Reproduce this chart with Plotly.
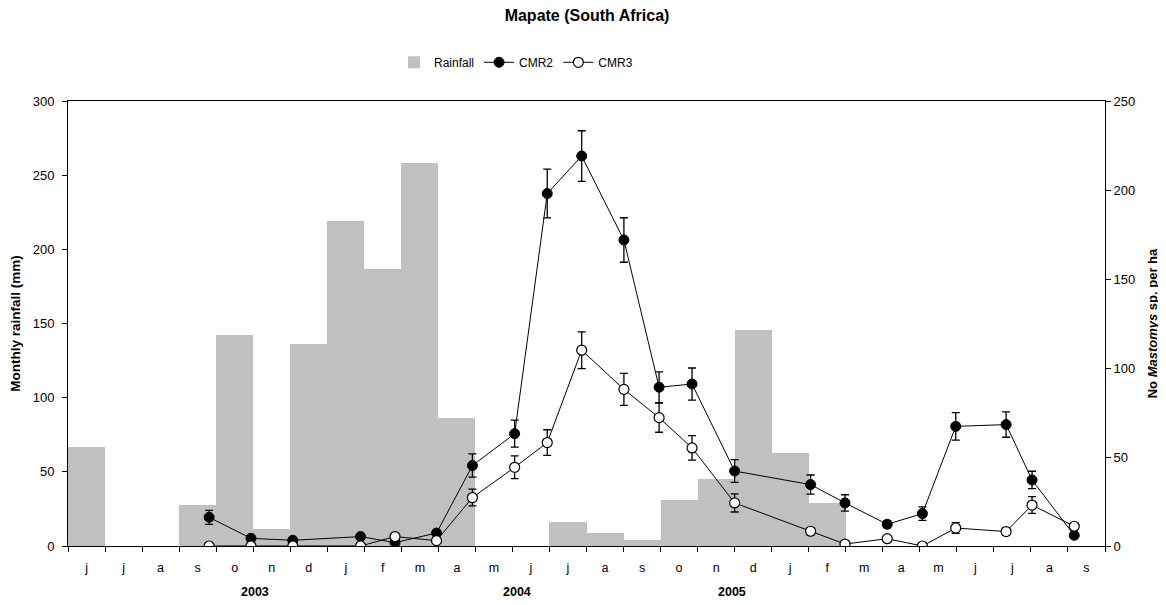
import plotly.graph_objects as go

months = ["j", "j", "a", "s", "o", "n", "d", "j", "f", "m", "a", "m", "j", "j",
          "a", "s", "o", "n", "d", "j", "f", "m", "a", "m", "j", "j", "a", "s"]
rainfall = [66.5, 0, 0, 27.6, 142, 11.3, 136, 218.9, 186.5, 258, 86, 0, 0, 16,
            8.5, 3.8, 30.8, 45, 145.4, 62.5, 28.8, 0, 0, 0, 0, 0, 0, 0]

# sampling positions (in month index units, 0 = June 2003)
sample_pos = [3.31, 4.44, 5.57, 7.40, 8.33, 9.45, 10.42, 11.56, 12.44, 13.37, 14.51,
              15.46, 16.35, 17.50, 19.55, 20.48, 21.62, 22.57, 23.47, 24.83, 25.53, 26.67]
cmr2 = [16.1, 4.3, 3.2, 5.3, 1.9, 7.3, 45.2, 63.1, 198, 219.1, 171.9,
        89.2, 91, 42.1, 34.5, 24.2, 12.2, 18.2, 67.2, 68.2, 37.1, 6.0]
cmr2_err = [3.9, 0, 0, 0, 0, 1.5, 6.5, 7.6, 13.7, 14.2, 12.5,
            8.6, 9.0, 6.4, 5.4, 4.6, 2.0, 3.8, 7.7, 7.1, 4.9, 0]
cmr3 = [0, 0, 0, 0, 5.3, 3.0, 27.2, 44.2, 58.1, 110, 88,
        72.1, 55.1, 24.2, 8.3, 1.1, 4.1, 0, 10.1, 8.1, 23.0, 11.1]
cmr3_err = [0, 0, 0, 0, 0, 0, 4.7, 6.4, 7.2, 10.3, 9.0,
            8.2, 6.9, 5.1, 2.0, 0, 0, 0, 3.0, 2.0, 4.7, 0]

years = ["2003", "2004", "2005"]
year_pos = [4.55, 11.61, 17.42]

FONT = "Arial, Liberation Sans, sans-serif"
idx = list(range(len(months)))

fig = go.Figure()
fig.add_trace(go.Bar(x=idx, y=rainfall, name="Rainfall", width=1,
                     marker=dict(color="#c0c0c0", line=dict(width=0)),
                     xaxis="x", yaxis="y"))
fig.add_trace(go.Scatter(x=sample_pos, y=cmr2, name="CMR2", mode="lines+markers",
                         line=dict(color="black", width=1),
                         marker=dict(symbol="circle", size=10, color="black",
                                     line=dict(color="black", width=1)),
                         error_y=dict(type="data", array=cmr2_err, color="black",
                                      thickness=1.3, width=4),
                         xaxis="x", yaxis="y2"))
fig.add_trace(go.Scatter(x=sample_pos, y=cmr3, name="CMR3", mode="lines+markers",
                         line=dict(color="black", width=1),
                         marker=dict(symbol="circle", size=10, color="white",
                                     line=dict(color="black", width=1.2)),
                         error_y=dict(type="data", array=cmr3_err, color="black",
                                      thickness=1.3, width=4),
                         xaxis="x", yaxis="y2"))

annotations = [dict(text="<b>%s</b>" % yr, x=p, xref="x", y=-0.104, yref="paper",
                    showarrow=False, font=dict(family=FONT, size=12.5, color="black"),
                    xanchor="center", yanchor="middle")
               for yr, p in zip(years, year_pos)]

fig.update_layout(
    width=1158, height=597,
    margin=dict(l=60, r=61, t=93, b=59, autoexpand=False),
    paper_bgcolor="white", plot_bgcolor="white",
    bargap=0,
    font=dict(family=FONT, size=12, color="black"),
    title=dict(text="<b>Mapate (South Africa)</b>", x=0.5, xanchor="center",
               y=0.988, yanchor="middle", font=dict(family=FONT, size=16, color="black")),
    showlegend=True,
    legend=dict(orientation="h", x=0.432, xanchor="center", y=1.087, yanchor="middle",
                font=dict(family=FONT, size=12, color="black"),
                bgcolor="rgba(0,0,0,0)", itemwidth=30, tracegroupgap=0),
    xaxis=dict(range=[-0.5, 27.5], tickmode="array", tickvals=idx, ticktext=months,
               ticks="", showline=True, linecolor="black", linewidth=1, mirror=True,
               showgrid=False, zeroline=False, tickfont=dict(size=12.5, color="black"),
               ticklabelstandoff=10, automargin=False,
               minor=dict(tick0=-0.5, dtick=1, ticks="outside", ticklen=5,
                          tickcolor="black", showgrid=False)),
    yaxis=dict(range=[0, 300], dtick=50, ticks="outside", ticklen=5, tickcolor="black",
               showline=True, linecolor="black", linewidth=1, showgrid=False,
               zeroline=False, tickfont=dict(size=13, color="black"),
               ticklabelstandoff=5, automargin=False,
               title=dict(text="<b>Monthly rainfall (mm)</b>", font=dict(size=13.5),
                          standoff=12)),
    yaxis2=dict(range=[0, 250], dtick=50, ticks="outside", ticklen=5, tickcolor="black",
                overlaying="y", side="right", anchor="x", automargin=False,
                showline=True, linecolor="black", linewidth=1, showgrid=False,
                zeroline=False, tickfont=dict(size=13, color="black"),
                title=dict(text="<b>No <i>Mastomys</i> sp. per ha</b>", font=dict(size=13),
                           standoff=13)),
    annotations=annotations,
)

fig.write_html("out.html")
